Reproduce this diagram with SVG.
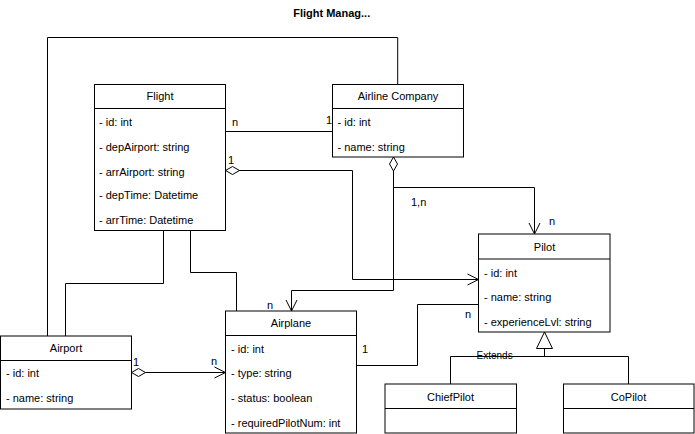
<svg xmlns="http://www.w3.org/2000/svg" width="695" height="434" viewBox="0 0 695 434">
<defs>
<style>
text{font-family:"Liberation Sans",Arial,Helvetica,sans-serif;font-size:11px;fill:#000}
.title{font-weight:bold;text-anchor:middle}
.hd{text-anchor:middle}
.box{fill:#fff;stroke:#000;stroke-width:1}
.sep{stroke:#000;stroke-width:1}
.c{fill:none;stroke:#000;stroke-width:1}
.lbl{font-size:11px}
.ext{font-size:10px}
</style>
<marker id="arrow" markerUnits="userSpaceOnUse" markerWidth="13" markerHeight="13" refX="11" refY="5.5" orient="auto" overflow="visible">
<path d="M0,0 L11,5.5 L0,11" fill="none" stroke="#000" stroke-width="1"/>
</marker>
<marker id="diamond" markerUnits="userSpaceOnUse" markerWidth="16" markerHeight="10" refX="0" refY="4" orient="auto" overflow="visible">
<path d="M0,4 L7,0 L14,4 L7,8 Z" fill="#fff" stroke="#000" stroke-width="1"/>
</marker>
<marker id="tri" markerUnits="userSpaceOnUse" markerWidth="18" markerHeight="18" refX="16.5" refY="8" orient="auto" overflow="visible">
<path d="M0,0 L16.5,8 L0,16 Z" fill="#fff" stroke="#000" stroke-width="1"/>
</marker>
</defs>
<rect width="695" height="434" fill="#fff"/>
<text class="title" x="331.7" y="17">Flight Manag...</text>

<g id="connectors">
<path class="c" d="M397.7,84.5 V37.5 H47.5 V336"/>
<path class="c" d="M163.5,230.5 V283.5 H65.5 V336"/>
<path class="c" d="M190.5,230.5 V272.5 H236.5 V311"/>
<path class="c" d="M225.5,131.5 H332.5"/>
<path class="c" d="M225.5,170.5 H352.5 V279.5 H478.5" marker-start="url(#diamond)" marker-end="url(#arrow)"/>
<path class="c" d="M393.5,157 V290.5 H291.5 V311" marker-start="url(#diamond)" marker-end="url(#arrow)"/>
<path class="c" d="M393.5,187.5 H534.5 V234" marker-end="url(#arrow)"/>
<path class="c" d="M131.5,372.5 H225.5" marker-start="url(#diamond)" marker-end="url(#arrow)"/>
<path class="c" d="M356.5,365.5 H417.5 V304.5 H478.5"/>
<path class="c" d="M450.5,384 V356.5 H628.5 V384"/>
<path class="c" d="M544.5,356.5 V332" marker-end="url(#tri)"/>
<text class="lbl" x="232" y="126">n</text>
<text class="lbl" x="326" y="124">1</text>
<text class="lbl" x="228" y="164">1</text>
<text class="lbl" x="411" y="206">1,n</text>
<text class="lbl" x="549" y="225">n</text>
<text class="lbl" x="267" y="309">n</text>
<text class="lbl" x="133" y="366">1</text>
<text class="lbl" x="211" y="365">n</text>
<text class="lbl" x="362" y="353">1</text>
<text class="lbl" x="465" y="318">n</text>
<text class="ext" x="476.5" y="359">Extends</text>
</g>

<g id="flight">
<rect class="box" x="94.5" y="84.5" width="131" height="146"/>
<line class="sep" x1="94.5" y1="108.5" x2="225.5" y2="108.5"/>
<text class="hd" x="160" y="100.3">Flight</text>
<text x="99" y="126.3">- id: int</text>
<text x="99" y="150.7">- depAirport: string</text>
<text x="99" y="175.5">- arrAirport: string</text>
<text x="99" y="199">- depTime: Datetime</text>
<text x="99" y="224">- arrTime: Datetime</text>
</g>

<g id="airline-company">
<rect class="box" x="332.5" y="84.5" width="131" height="72.5"/>
<line class="sep" x1="332.5" y1="108.5" x2="463.5" y2="108.5"/>
<text class="hd" x="398" y="100.3">Airline Company</text>
<text x="337.5" y="126.3">- id: int</text>
<text x="337.5" y="150.7">- name: string</text>
</g>

<g id="airport">
<rect class="box" x="0.5" y="336" width="131" height="73"/>
<line class="sep" x1="0.5" y1="360.5" x2="131.5" y2="360.5"/>
<text class="hd" x="66" y="351.7">Airport</text>
<text x="6" y="377.3">- id: int</text>
<text x="6" y="402.3">- name: string</text>
</g>

<g id="airplane">
<rect class="box" x="225.5" y="311" width="131" height="122"/>
<line class="sep" x1="225.5" y1="335.5" x2="356.5" y2="335.5"/>
<text class="hd" x="291" y="327.3">Airplane</text>
<text x="231" y="353.3">- id: int</text>
<text x="231" y="377.3">- type: string</text>
<text x="231" y="402.3">- status: boolean</text>
<text x="231" y="426.7">- requiredPilotNum: int</text>
</g>

<g id="pilot">
<rect class="box" x="478.5" y="234" width="131.5" height="98"/>
<line class="sep" x1="478.5" y1="259" x2="610" y2="259"/>
<text class="hd" x="544.5" y="250.7">Pilot</text>
<text x="484" y="276.7">- id: int</text>
<text x="484" y="300.7">- name: string</text>
<text x="484" y="325.7">- experienceLvl: string</text>
</g>

<g id="chiefpilot">
<rect class="box" x="385" y="384" width="131.5" height="49"/>
<line class="sep" x1="385" y1="408.5" x2="516.5" y2="408.5"/>
<text class="hd" x="450.5" y="400.7">ChiefPilot</text>
</g>

<g id="copilot">
<rect class="box" x="563.5" y="384" width="130.5" height="49"/>
<line class="sep" x1="563.5" y1="408.5" x2="694" y2="408.5"/>
<text class="hd" x="628.5" y="400.7">CoPilot</text>
</g>
</svg>
